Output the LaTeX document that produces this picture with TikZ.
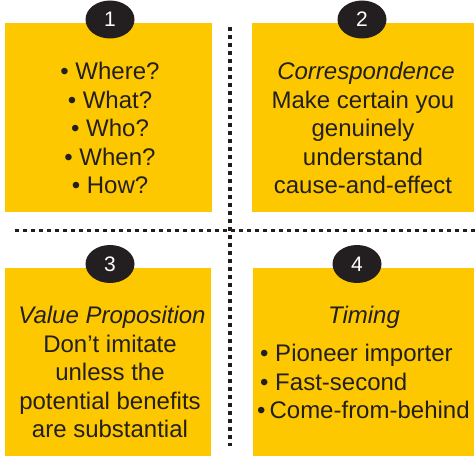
\documentclass[tikz,border=0pt]{standalone}
\usepackage{fontspec}
\setmainfont{Liberation Sans}
\usetikzlibrary{shapes.geometric}
\definecolor{panelyellow}{HTML}{FDC800}
\definecolor{inkdark}{HTML}{231F20}
\begin{document}
\begin{tikzpicture}[x=1pt,y=-1pt,
  panel/.style={fill=panelyellow,draw=none},
  badge/.style={ellipse,fill=inkdark,minimum width=49pt,minimum height=38pt,inner sep=0pt,
                text=white,font=\fontsize{21}{21}\selectfont},
  txt/.style={text=inkdark,font=\fontsize{24}{28}\selectfont,inner sep=0pt,anchor=base},
  txtl/.style={txt,anchor=base west},
  divider/.style={draw=inkdark,line width=3.6pt,dash pattern=on 3.6pt off 4.4pt}]
\useasboundingbox (0,0) rectangle (475,457);

% dividing lines
\coordinate (vtop) at (230,27);
\coordinate (vbot) at (230,446);
\coordinate (hleft) at (15,230.5);
\coordinate (hright) at (475,230.5);
\draw[divider] (vtop) -- (vbot);
\draw[divider] (hleft) -- (hright);

% panels
\path[panel] (5,23) rectangle (212,212) coordinate (p1);
\path[panel] (252,23) rectangle (474,212) coordinate (p2);
\path[panel] (5,268) rectangle (211,456) coordinate (p3);
\path[panel] (253,268) rectangle (474,456) coordinate (p4);

% numbered badges
\node[badge] (b1) at (110,19.5) {1};
\node[badge] (b2) at (362,19.5) {2};
\node[badge] (b3) at (110,264) {3};
\node[badge] (b4) at (357,264) {4};

% panel 1
\node[txt] (t11) at (110,80) {\textbullet\ Where?};
\node[txt] (t12) at (110,108.5) {\textbullet\ What?};
\node[txt] (t13) at (110,137) {\textbullet\ Who?};
\node[txt] (t14) at (110,165.5) {\textbullet\ When?};
\node[txt] (t15) at (110,194) {\textbullet\ How?};

% panel 2
\node[txt] (t21) at (366,80) {\itshape Correspondence};
\node[txt] (t22) at (363,108.5) {Make certain you};
\node[txt] (t23) at (363,137) {genuinely};
\node[txt] (t24) at (363,165.5) {understand};
\node[txt] (t25) at (363,194) {cause-and-effect};

% panel 3
\node[txt] (t31) at (112,324) {\itshape Value Proposition};
\node[txt] (t32) at (110,352.5) {Don’t imitate};
\node[txt] (t33) at (110,381) {unless the};
\node[txt] (t34) at (110,409.5) {potential benefits};
\node[txt] (t35) at (110,438) {are substantial};

% panel 4
\node[txt] (t41) at (364,324) {\itshape Timing};
\node[txtl] (t42) at (260,362) {\textbullet\ Pioneer importer};
\node[txtl] (t43) at (260,390.5) {\textbullet\ Fast-second};
\node[txtl] (t44) at (257,419) {\textbullet\,Come-from-behind};
\end{tikzpicture}
\end{document}
